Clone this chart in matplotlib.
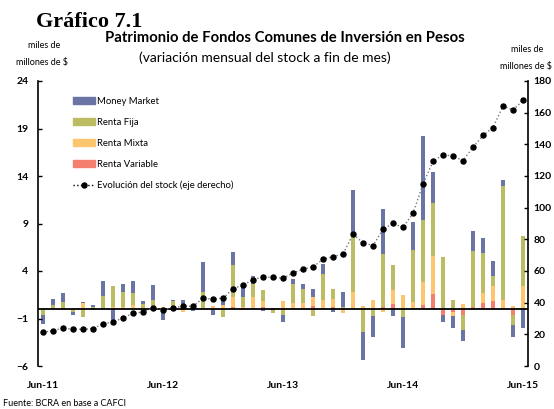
import numpy as np
import matplotlib.pyplot as plt
from matplotlib.patches import Patch
from matplotlib.lines import Line2D

# variación mensual (miles de millones de $), jun-11 a jun-15
money_market = [-0.95, 0.63, 0.95, -0.3, 0.1, 0.2, 1.58, -1.3, 0.84, 1.26, 0.32, 1.58,
                -1.12, 0.14, 0.7, -0.25, 3.22, -0.67, 0.49, 1.4, 1.15, 0.8, -0.25, 0.14,
                -0.8, 0.6, 0.53, 0.84, 1.05, -0.35, 1.54, 4.7, -3.0, -2.28, 4.73, -0.77,
                -3.26, 2.94, 8.8, 3.26, -0.8, -1.19, -1.23, 2.1, 1.58, 1.58, 0.63, -1.33,
                -1.96]
renta_fija = [-0.6, 0.46, 0.63, -0.2, -0.8, 0.17, 1.26, 2.24, 1.58, 1.33, 0.42, 0.7,
              0.0, 0.56, 0.3, 0.45, 1.65, 0.0, -0.84, 3.4, 1.05, 1.35, 1.23, -0.3,
              -0.45, 1.96, 1.5, -0.77, 2.8, 1.05, 0.25, 6.0, -2.37, -0.7, 5.6, 2.7,
              -0.88, 5.46, 6.5, 5.57, 5.5, 0.98, -1.58, 5.95, 4.2, 1.12, 11.97, -1.05,
              5.25]
renta_mixta = [0.1, 0.0, 0.1, 0.0, 0.56, 0.05, 0.14, 0.05, 0.25, 0.39, 0.14, 0.2,
               0.2, 0.25, -0.3, 0.0, 0.1, 0.35, 0.42, 1.0, 0.25, 1.2, 0.63, 0.0,
               0.8, 0.49, 0.49, 1.0, 0.77, 0.9, -0.3, 1.7, 0.28, 0.84, -0.3, 1.4,
               1.5, 0.63, 2.42, 4.0, 0.0, -0.42, 0.56, 0.0, 1.05, 1.5, 0.84, 0.35,
               2.45]
renta_variable = [0.0, 0.0, -0.13, -0.15, 0.1, -0.13, 0.0, 0.15, 0.0, 0.0, -0.2, 0.0,
                  0.0, 0.0, -0.05, 0.0, 0.0, 0.0, 0.0, 0.25, -0.14, 0.1, 0.17, -0.15,
                  -0.14, 0.14, 0.14, 0.28, 0.14, 0.18, -0.1, 0.14, 0.0, 0.14, 0.2, 0.56,
                  0.0, 0.14, 0.46, 1.61, -0.6, -0.35, -0.6, 0.17, 0.67, 0.88, 0.14, -0.6,
                  0.0]
# stock total (eje derecho)
stock = [21.3, 22.3, 24.0, 23.2, 23.2, 23.6, 26.7, 27.8, 30.3, 33.3, 34.1, 36.6,
         35.6, 36.8, 37.7, 37.7, 42.8, 42.3, 42.8, 48.9, 51.0, 54.6, 56.2, 56.0,
         55.4, 58.7, 61.2, 62.6, 67.4, 69.1, 70.7, 83.2, 77.9, 76.0, 86.3, 90.1,
         87.5, 96.5, 114.8, 129.2, 133.5, 132.6, 129.7, 138.2, 145.6, 150.6, 164.2, 161.7,
         167.7]
tick_labels = ["Jun-11", "Jun-12", "Jun-13", "Jun-14", "Jun-15"]

colores = ["#F47F6F", "#FEC56F", "#BCBD62", "#6A75A5"]  # variable, mixta, fija, mm
series = [renta_variable, renta_mixta, renta_fija, money_market]

plt.rcParams['font.family'] = ['Lato', 'DejaVu Sans']

fig = plt.figure(figsize=(5.54, 4.09), dpi=100)
ax = fig.add_axes([38 / 554, 1 - 366 / 409, 490 / 554, 285 / 409])

x = np.arange(len(stock))
pos = np.zeros(len(x))
neg = np.zeros(len(x))
for vals, col in zip(series, colores):
    v = np.array(vals)
    bottom = np.where(v >= 0, pos, neg)
    ax.bar(x, v, 0.48, bottom=bottom, color=col, linewidth=0)
    pos = pos + np.where(v >= 0, v, 0)
    neg = neg + np.where(v < 0, v, 0)

ax.axhline(0, color="black", lw=1.3, zorder=3)
ax.set_xlim(-0.5, 48.5)
ax.set_ylim(-6, 24)
ax.set_yticks(np.arange(-6, 25, 5))
ax.set_xticks([0, 12, 24, 36, 48])
ax.set_xticklabels(tick_labels, fontweight="bold", fontsize=7.5)
ax.tick_params(axis="x", length=0, pad=11)
ax.tick_params(axis="y", direction="in", length=3, width=1, pad=7, labelsize=7.5)
for lab in ax.get_yticklabels():
    lab.set_fontweight("bold")
for s in ["top", "right", "bottom"]:
    ax.spines[s].set_visible(False)
ax.spines["left"].set_linewidth(1.2)

ax2 = ax.twinx()
ax2.plot(x, stock, color="#777777", linestyle=":", lw=1, marker="o", ms=3.6,
         mfc="black", mec="black")
ax2.set_ylim(0, 180)
ax2.set_yticks(np.arange(0, 181, 20))
ax2.tick_params(axis="y", direction="in", length=3, width=1, pad=4, labelsize=7.5)
for lab in ax2.get_yticklabels():
    lab.set_fontweight("bold")
for s in ["top", "left", "bottom"]:
    ax2.spines[s].set_visible(False)
ax2.spines["right"].set_linewidth(1.2)

handles = [Patch(color=colores[3]), Patch(color=colores[2]), Patch(color=colores[1]),
           Patch(color=colores[0]),
           Line2D([], [], color="black", linestyle=":", lw=1, marker="o", ms=3.6)]
labels = ["Money Market", "Renta Fija", "Renta Mixta", "Renta Variable",
          "Evolución del stock (eje derecho)"]
ax2.legend(handles, labels, loc="upper left", bbox_to_anchor=(0.071, 0.945),
           frameon=False, fontsize=6.8, borderpad=0, borderaxespad=0,
           handlelength=2.3, handletextpad=0.3, labelspacing=1.27)

fig.text(36 / 554, 1 - 22 / 409, "Gráfico 7.1", family="Liberation Serif",
         fontweight="bold", fontsize=16, va="center", ha="left")
fig.text(285 / 554, 1 - 38 / 409, "Patrimonio de Fondos Comunes de Inversión en Pesos",
         fontweight="bold", fontsize=10.7, ha="center", va="center")
fig.text(265 / 554, 1 - 58 / 409, "(variación mensual del stock a fin de mes)",
         fontsize=10, ha="center", va="center")
fig.text(44 / 554, 1 - 46 / 409, "miles de", fontsize=6.5, ha="center", va="center")
fig.text(42 / 554, 1 - 63 / 409, "millones de $", fontsize=6.5, ha="center", va="center")
fig.text(527 / 554, 1 - 50 / 409, "miles de", fontsize=6.5, ha="center", va="center")
fig.text(500 / 554, 1 - 66 / 409, "millones de $", fontsize=6.5, ha="left", va="center")
fig.text(3 / 554, 1 - 404 / 409, "Fuente: BCRA en base a CAFCI", fontsize=6.5,
         ha="left", va="center")

fig.savefig("out.png", dpi=100)
